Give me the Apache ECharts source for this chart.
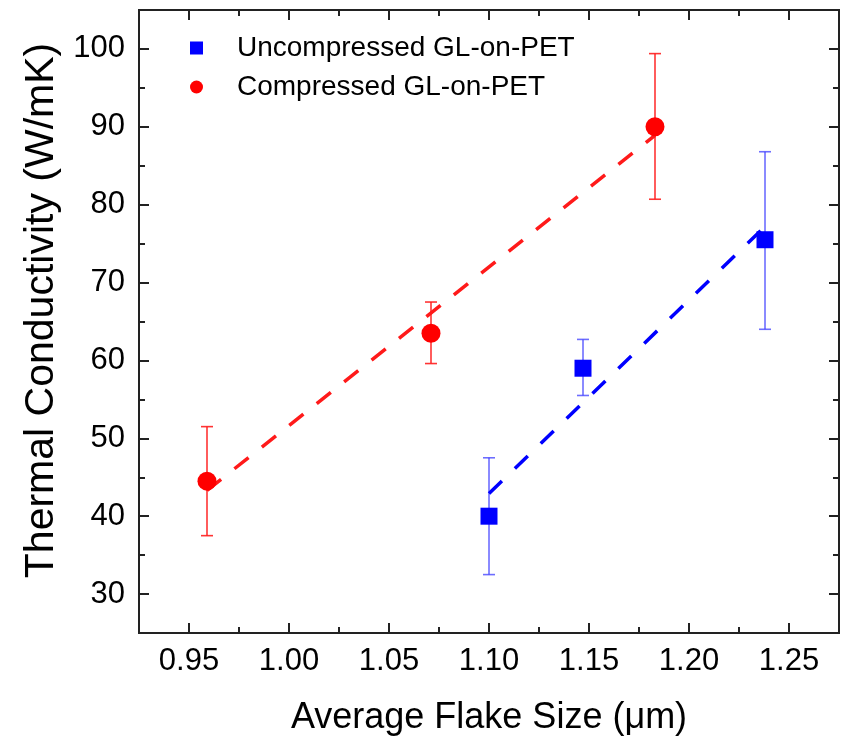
<!DOCTYPE html>
<html>
<head>
<meta charset="utf-8">
<script src="https://cdn.jsdelivr.net/npm/echarts@6/dist/echarts.min.js"></script>
<style>
html,body{margin:0;padding:0;background:#fff;}
#chart{width:846px;height:751px;}
</style>
</head>
<body>
<div id="chart"></div>
<script>
// ---- Data ----
const uncompressedX = [1.100, 1.147, 1.238];
const uncompressedY = [40.0, 59.0, 75.5];
const uncompressedLow = [32.5, 55.5, 64.0];
const uncompressedHigh = [47.5, 62.7, 86.8];
const uncompressedFitX = [1.100, 1.238];
const uncompressedFitY = [42.9, 77.2];

const compressedX = [0.959, 1.071, 1.183];
const compressedY = [44.5, 63.5, 90.0];
const compressedLow = [37.5, 59.6, 80.7];
const compressedHigh = [51.5, 67.5, 99.4];
const compressedFitX = [0.959, 1.183];
const compressedFitY = [43.3, 88.9];

// ---- Axis ticks ----
const xRange = [0.925, 1.275];
const xMajorTicks = [0.95, 1.00, 1.05, 1.10, 1.15, 1.20, 1.25];
const xMinorTicks = [0.975, 1.025, 1.075, 1.125, 1.175, 1.225];
const yRange = [25, 105];
const yMajorTicks = [30, 40, 50, 60, 70, 80, 90, 100];
const yMinorTicks = [35, 45, 55, 65, 75, 85, 95];

const seriesNames = ['Uncompressed GL-on-PET', 'Compressed GL-on-PET'];
const xTitle = 'Average Flake Size (\u03bcm)';
const yTitle = 'Thermal Conductivity (W/mK)';

const BLUE = '#0000ff';
const RED = '#ff0000';
const FONT = '"Liberation Sans", Arial, sans-serif';

function pairs(xs, ys) { return xs.map((x, i) => [x, ys[i]]); }
function errRows(xs, lo, hi) { return xs.map((x, i) => [x, lo[i], hi[i]]); }

function errorRenderer(color, capHalf, width) {
  return function (params, api) {
    const x = api.value(0);
    const lo = api.coord([x, api.value(1)]);
    const hi = api.coord([x, api.value(2)]);
    const style = { stroke: color, lineWidth: width, fill: null };
    return {
      type: 'group',
      children: [
        { type: 'line', shape: { x1: lo[0], y1: lo[1], x2: hi[0], y2: hi[1] }, style: style },
        { type: 'line', shape: { x1: lo[0] - capHalf, y1: lo[1], x2: lo[0] + capHalf, y2: lo[1] }, style: style },
        { type: 'line', shape: { x1: hi[0] - capHalf, y1: hi[1], x2: hi[0] + capHalf, y2: hi[1] }, style: style }
      ]
    };
  };
}

const lineSt = { color: '#222', width: 2 };
const labelStyle = { color: '#000', fontSize: 31, fontFamily: FONT };

function tickAxis(kind, position, range, ticks, len, extra) {
  const ax = {
    type: 'value', min: range[0], max: range[1], position: position,
    axisLine: { show: true, onZero: false, lineStyle: lineSt },
    axisTick: { show: true, inside: true, length: len, lineStyle: lineSt, customValues: ticks },
    axisLabel: { show: false },
    splitLine: { show: false }
  };
  return Object.assign(ax, extra || {});
}

const xAxes = [
  tickAxis('x', 'bottom', xRange, xMajorTicks, 10, {
    name: xTitle, nameLocation: 'middle', nameGap: 67,
    nameTextStyle: { color: '#000', fontSize: 36, fontFamily: FONT },
    axisLabel: Object.assign({ show: true, margin: 13, customValues: xMajorTicks,
      formatter: v => v.toFixed(2) }, labelStyle)
  }),
  tickAxis('x', 'bottom', xRange, xMinorTicks, 6),
  tickAxis('x', 'top', xRange, xMajorTicks, 10),
  tickAxis('x', 'top', xRange, xMinorTicks, 6)
];
const yAxes = [
  tickAxis('y', 'left', yRange, yMajorTicks, 10, {
    name: yTitle, nameLocation: 'middle', nameGap: 71,
    nameTextStyle: { color: '#000', fontSize: 41, fontFamily: FONT, padding: [0, 0, 0, 22] },
    axisLabel: Object.assign({ show: true, margin: 14, customValues: yMajorTicks,
      formatter: v => String(v) }, labelStyle)
  }),
  tickAxis('y', 'left', yRange, yMinorTicks, 6),
  tickAxis('y', 'right', yRange, yMajorTicks, 10),
  tickAxis('y', 'right', yRange, yMinorTicks, 6)
];

const chart = echarts.init(document.getElementById('chart'), null, { renderer: 'canvas' });
chart.setOption({
  backgroundColor: '#fff',
  animation: false,
  grid: { left: 139, right: 7, top: 10, bottom: 118 },
  legend: {
    orient: 'vertical',
    left: 185,
    top: 28,
    itemWidth: 13,
    itemHeight: 13,
    itemGap: 9,
    textStyle: { color: '#000', fontSize: 28, fontFamily: FONT, lineHeight: 30, padding: [0, 0, 0, 29] },
    data: [
      { name: seriesNames[0], icon: 'rect' },
      { name: seriesNames[1], icon: 'circle' }
    ]
  },
  xAxis: xAxes,
  yAxis: yAxes,
  series: [
    {
      name: 'errU', type: 'custom', xAxisIndex: 0, yAxisIndex: 0, z: 1,
      renderItem: errorRenderer('rgba(60,60,255,0.75)', 6, 1.6),
      data: errRows(uncompressedX, uncompressedLow, uncompressedHigh),
      encode: { x: 0, y: [1, 2] }, silent: true
    },
    {
      name: 'errC', type: 'custom', xAxisIndex: 0, yAxisIndex: 0, z: 1,
      renderItem: errorRenderer('rgba(255,30,30,0.9)', 6, 1.6),
      data: errRows(compressedX, compressedLow, compressedHigh),
      encode: { x: 0, y: [1, 2] }, silent: true
    },
    {
      name: 'fitU', type: 'line', z: 2, showSymbol: false, symbol: 'none',
      xAxisIndex: 0, yAxisIndex: 0,
      data: pairs(uncompressedFitX, uncompressedFitY),
      lineStyle: { color: BLUE, width: 3.5, type: [18, 18] }
    },
    {
      name: 'fitC', type: 'line', z: 2, showSymbol: false, symbol: 'none',
      xAxisIndex: 0, yAxisIndex: 0,
      data: pairs(compressedFitX, compressedFitY),
      lineStyle: { color: '#ff1a1a', width: 3.5, type: [18, 17] }
    },
    {
      name: seriesNames[0], type: 'scatter', z: 3,
      xAxisIndex: 0, yAxisIndex: 0,
      symbol: 'rect', symbolSize: 17,
      itemStyle: { color: BLUE, opacity: 1 },
      data: pairs(uncompressedX, uncompressedY)
    },
    {
      name: seriesNames[1], type: 'scatter', z: 3,
      xAxisIndex: 0, yAxisIndex: 0,
      symbol: 'circle', symbolSize: 19,
      itemStyle: { color: RED, opacity: 1 },
      data: pairs(compressedX, compressedY)
    }
  ]
});
</script>
</body>
</html>
